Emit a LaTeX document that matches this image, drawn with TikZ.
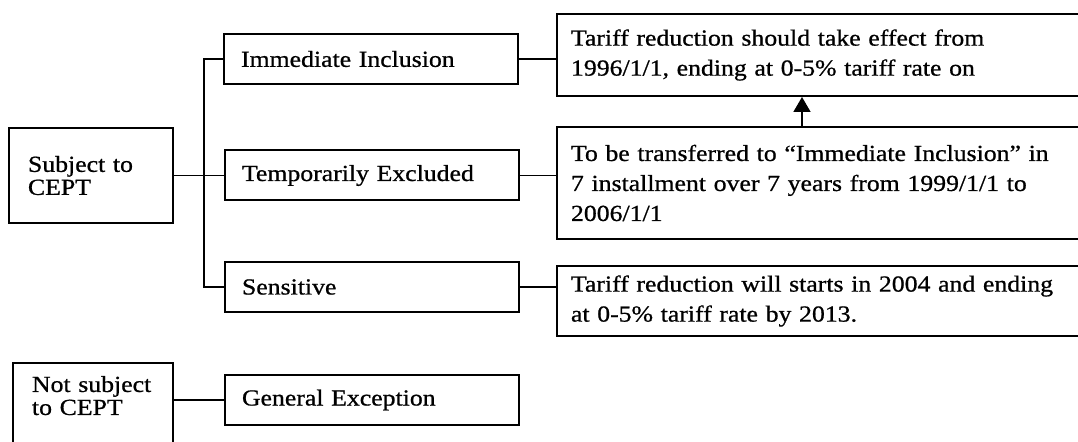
\documentclass[tikz,border=0pt]{standalone}
\usepackage{fontspec}
\setmainfont{Liberation Serif}[FakeStretch=1.12, FakeBold=0.8]
\usepackage{tikz}
\usetikzlibrary{arrows.meta, positioning}
\definecolor{ink}{RGB}{0,0,0}

\begin{document}
\begin{tikzpicture}[
  x=0.5pt, y=-0.5pt,
  every node/.style={font=\fontsize{11.5}{11.5}\selectfont, text=ink},
  basebox/.style={rectangle, draw=ink, line width=1pt, anchor=north west,
                  align=left, inner ysep=0pt},
  catbox/.style={basebox, inner xsep=9.5pt, text width=63pt,
                 minimum height=47.5pt},
  subbox/.style={basebox, inner xsep=8.5pt, text width=130pt,
                 minimum height=25pt},
  notebox/.style={basebox, inner xsep=7pt, text width=253pt,
                  font=\fontsize{11.5}{15}\selectfont},
  link/.style={draw=ink, line width=0.8pt},
  bus/.style={draw=ink, line width=1.2pt},
  uplink/.style={link, -{Triangle[length=7.5pt, width=8.5pt]}},
]
\useasboundingbox (0,0) rectangle (1078,442);

% Categories
\node[catbox] (subj)    at (8,127)  {Subject to\\CEPT};
\node[catbox, text width=61pt, inner ysep=6.5pt, text depth=60pt]
  (notsubj) at (12,362) {Not subject\\to CEPT};

% Lists
\node[subbox] (imm)  at (223,33)    {Immediate Inclusion};
\node[subbox] (temp) at (224,149.5) {Temporarily Excluded};
\node[subbox] (sens) at (224,261)   {Sensitive};
\node[subbox] (gen)  at (224,374)   {General Exception};

% Notes
\node[notebox, minimum height=41pt] (effnote) at (556,13)
  {Tariff reduction should take effect from\\1996/1/1, ending at 0-5\% tariff rate on};
\node[notebox, minimum height=56pt] (transnote) at (556,126)
  {To be transferred to “Immediate Inclusion” in\\7 installment over 7 years from 1999/1/1 to\\2006/1/1};
\node[notebox, minimum height=35pt] (sensnote) at (556,265)
  {Tariff reduction will starts in 2004 and ending\\at 0-5\% tariff rate by 2013.};

% ── Tree ──
\draw[link] (subj) -- (temp);
\draw[bus] (imm.west) -- ++(-19,0) |- (sens.west);
\draw[link] (notsubj.east |- gen.west) -- (gen.west);

% ── Notes ──
\draw[link] (imm.east) -- (imm.east -| effnote.west);
\draw[link] (temp.east) -- (temp.east -| transnote.west);
\draw[link] (sens.east) -- (sens.east -| sensnote.west);

\coordinate (tipx) at (802,0);
\draw[uplink] (transnote.north -| tipx) -- (effnote.south -| tipx);

\end{tikzpicture}
\end{document}
